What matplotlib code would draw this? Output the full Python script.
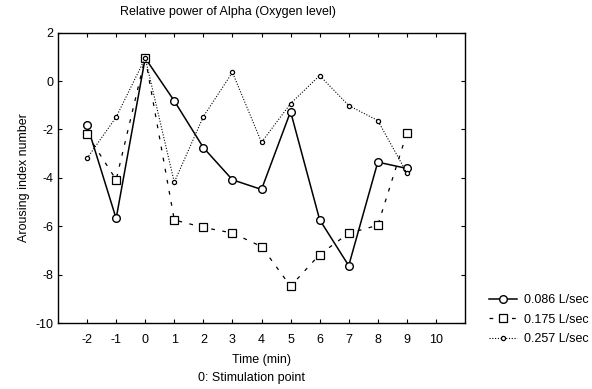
import matplotlib
matplotlib.use('Agg')
import matplotlib.pyplot as plt

plt.rcParams['font.family'] = ['Liberation Sans', 'DejaVu Sans']
plt.rcParams['axes.unicode_minus'] = False

time = [-2, -1, 0, 1, 2, 3, 4, 5, 6, 7, 8, 9]
flow_086 = [-1.81, -5.68, 0.95, -0.82, -2.75, -4.08, -4.48, -1.26, -5.73, -7.63, -3.35, -3.61]
flow_175 = [-2.2, -4.08, 0.97, -5.74, -6.05, -6.28, -6.84, -8.48, -7.17, -6.29, -5.96, -2.15]
flow_257 = [-3.19, -1.49, 0.95, -4.18, -1.47, 0.36, -2.53, -0.93, 0.23, -1.01, -1.63, -3.8]
labels = ['0.086 L/sec', '0.175 L/sec', '0.257 L/sec']

fig = plt.figure(figsize=(5.92, 3.89), dpi=100)
ax = fig.add_axes([58/592, 1-323/389, (465-58)/592, (323-32.7)/389])

ax.plot(time, flow_086, color='black', lw=1.1, ls='-', marker='o', ms=5.5,
        mfc='white', mec='black', mew=1.0, label=labels[0])
ax.plot(time, flow_175, color='black', lw=0.9, ls=(0, (3, 6)), marker='s', ms=5.5,
        mfc='white', mec='black', mew=0.9, label=labels[1])
ax.plot(time, flow_257, color='black', lw=0.8, ls=(0, (1, 1.5)), marker='o', ms=3,
        mfc='white', mec='black', mew=0.9, label=labels[2])

ax.set_xlim(-3, 11)
ax.set_ylim(-10, 2)
ax.set_xticks(range(-2, 11))
ax.set_yticks(range(-10, 3, 2))
ax.tick_params(direction='in', top=True, right=True, labelsize=9, length=3, width=0.8)
ax.tick_params(axis='x', pad=8)
for s in ax.spines.values():
    s.set_linewidth(1.0)

ax.set_xlabel('Time (min)', fontsize=9, labelpad=6)
ax.set_ylabel('Arousing index number', fontsize=9, labelpad=4)
fig.text(228/592, 1-12/389, 'Relative power of Alpha (Oxygen level)', ha='center', va='center', fontsize=9)
fig.text(252/592, 1-378/389, '0: Stimulation point', ha='center', va='center', fontsize=9)

ax.legend(loc='upper left', bbox_to_anchor=(478/592, 1-283/389), bbox_transform=fig.transFigure,
          frameon=False, fontsize=9, handlelength=2.2, handletextpad=0.6, labelspacing=0.6)

fig.savefig('out.png', dpi=100)
